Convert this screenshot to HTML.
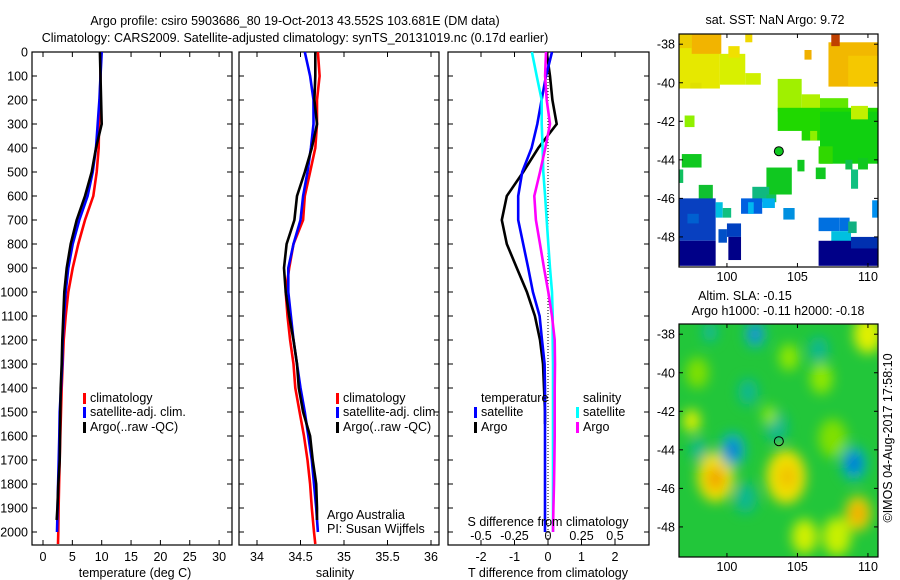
<!DOCTYPE html>
<html><head><meta charset="utf-8"><style>
body{margin:0;background:#fff;}
svg{display:block;font-family:"Liberation Sans",sans-serif;}
text{font-size:12.5px;fill:#000;}
</style></head><body>
<svg id="c" width="900" height="580" viewBox="0 0 900 580" xmlns="http://www.w3.org/2000/svg">
<defs><filter id="bl" x="-50%" y="-50%" width="200%" height="200%"><feGaussianBlur stdDeviation="6"/></filter>
<clipPath id="m2clip"><rect x="679" y="324" width="199" height="233"/></clipPath></defs>
<text x="295" y="25" text-anchor="middle">Argo profile: csiro 5903686_80 19-Oct-2013 43.552S 103.681E (DM data)</text>
<text x="295" y="42" text-anchor="middle">Climatology: CARS2009. Satellite-adjusted climatology: synTS_20131019.nc (0.17d earlier)</text>
<text x="775" y="24" text-anchor="middle">sat. SST: NaN Argo: 9.72</text>
<text x="745" y="300" text-anchor="middle">Altim. SLA: -0.15</text>
<text x="778" y="315" text-anchor="middle">Argo h1000: -0.11 h2000: -0.18</text>
<text x="0" y="0" transform="translate(892,438) rotate(-90)" text-anchor="middle">©IMOS 04-Aug-2017 17:58:10</text>
<text x="327" y="519">Argo Australia</text>
<text x="327" y="533">PI: Susan Wijffels</text>
<g id="g"></g>
</svg>
<script>
// ---- data ----
const depths=[0,100,200,300,400,500,600,700,800,900,1000,1100,1200,1300,1400,1500,1600,1700,1800,1900,2000];
const depthsClim=[0,100,200,300,400,500,600,700,800,900,1000,1100,1200,1300,1400,1500,1600,1700,1800,1900,2000,2050];
const depthsArgo=[0,100,200,300,400,500,600,700,800,900,1000,1100,1200,1300,1400,1500,1600,1700,1800,1900,1950];
const tempClim=[9.8,9.8,9.7,9.54,9.49,9.15,8.57,7.16,6.01,5.06,4.31,3.87,3.53,3.36,3.19,3.07,2.95,2.85,2.75,2.65,2.6,2.55];
const tempSat=[10.0,9.8,9.6,9.32,9.03,8.46,7.6,6.18,5.06,4.31,3.87,3.58,3.36,3.29,3.07,2.85,2.78,2.67,2.58,2.48,2.39];
const tempArgo=[9.7,9.8,9.9,10.0,9.03,8.3,7.16,5.74,4.72,4.04,3.63,3.46,3.29,3.19,3.02,2.95,2.9,2.85,2.6,2.45,2.33];
const salClim=[34.70,34.72,34.69,34.69,34.67,34.61,34.55,34.53,34.42,34.37,34.33,34.35,34.38,34.42,34.44,34.49,34.54,34.58,34.61,34.63,34.655,34.67];
const salSat=[34.55,34.61,34.65,34.65,34.62,34.58,34.53,34.50,34.42,34.36,34.36,34.39,34.42,34.46,34.50,34.55,34.59,34.63,34.655,34.68,34.70];
const salArgo=[34.67,34.67,34.66,34.69,34.63,34.55,34.46,34.43,34.34,34.31,34.33,34.37,34.42,34.46,34.48,34.53,34.61,34.64,34.68,34.69,34.69];
const dTsat=[0.12,-0.06,-0.19,-0.32,-0.49,-0.77,-0.89,-0.89,-0.74,-0.59,-0.45,-0.25,-0.18,-0.1,-0.09,-0.09,-0.09,-0.09,-0.09,-0.09,-0.09];
const dTargo=[-0.04,0.06,0.13,0.26,-0.29,-0.74,-1.23,-1.38,-1.23,-0.93,-0.63,-0.39,-0.24,-0.15,-0.12,-0.09,-0.09];
const depthsDTargo=[0,100,200,300,400,500,600,700,800,900,1000,1100,1200,1300,1400,1500,1550];
const dSsat=[-0.12,-0.084,-0.047,-0.047,-0.04,-0.035,-0.022,-0.01,0.002,0.015,0.03,0.035,0.035,0.037,0.037,0.037,0.037,0.037,0.037,0.037,0.037];
const dSargo=[-0.015,-0.022,-0.01,0.015,-0.02,-0.06,-0.102,-0.09,-0.06,-0.03,0.002,0.03,0.05,0.052,0.05,0.05,0.05,0.048,0.045,0.04,0.037];
const depthTicks=[0,100,200,300,400,500,600,700,800,900,1000,1100,1200,1300,1400,1500,1600,1700,1800,1900,2000];
const tempTicks=[0,5,10,15,20,25,30];
const salTicks=[34,34.5,35,35.5,36];
const salTickLabels=["34","34.5","35","35.5","36"];
const dTTicks=[-2,-1,0,1,2];
const dSTicks=[-0.5,-0.25,0,0.25,0.5];
const latTicks=[-38,-40,-42,-44,-46,-48];
const lonTicks=[100,105,110];
const argoLon=103.681, argoLat=-43.552;
// SST map patches: [lon0,lat0,lon1,lat1,color]
const sstPatches=[
[96.6,-37.5,99.5,-40.3,"#e6e800"],[97.5,-37.5,99.6,-38.5,"#f2b400"],[96.6,-37.5,97.5,-38.2,"#eccc00"],
[99.5,-38.5,101.3,-40.1,"#d8f000"],[101.3,-39.5,102.4,-40.1,"#d0f000"],[100.1,-38.1,100.9,-38.7,"#f0e000"],[101.3,-37.5,101.8,-37.9,"#f0d800"],
[97.4,-40,98.2,-40.3,"#e0e000"],
[107.2,-37.9,110.7,-40.2,"#f2b800"],[108.6,-38.6,110.7,-40.2,"#f5c800"],[107.4,-37.5,108,-38.1,"#c04000"],[105.5,-38.3,106,-38.8,"#f0b000"],
[103.6,-39.8,105.3,-41.5,"#a0f000"],[105.3,-40.6,106.6,-41.5,"#b0f000"],[106.6,-40.8,108.6,-41.5,"#60e800"],
[103.6,-41.3,110.7,-42.5,"#20d800"],[106.6,-41.5,110.7,-44.2,"#10d010"],[105.3,-42.3,106.6,-43,"#20d800"],[105.9,-42.5,106.4,-43,"#90f000"],
[108.8,-41.2,110,-41.9,"#c0f000"],[106.5,-43.3,107.5,-44.2,"#30d800"],
[97,-41.7,97.7,-42.3,"#90f000"],[96.8,-43.7,98.2,-44.4,"#10c820"],[96.6,-44.5,96.9,-45.2,"#10c060"],
[102.8,-44.4,104.6,-45.8,"#10c820"],[101.8,-45.4,103,-46.2,"#10b880"],[102.8,-45.8,103.5,-46.2,"#10c060"],[98,-45.3,99,-46.2,"#10c030"],
[105,-44,105.5,-44.6,"#10c820"],[106.3,-44.4,107,-45,"#10c820"],[109.3,-43.9,110,-44.5,"#10c820"],[108.8,-44.5,109.3,-45.5,"#10c080"],[108.4,-44,108.9,-44.5,"#10c050"],
[96.6,-46,99.2,-48.2,"#0840c0"],[96.6,-48.2,99.2,-49.5,"#000088"],[97.2,-46.8,98,-47.3,"#0060d0"],[99.2,-46.2,99.7,-47,"#00c0e0"],[99.7,-46.5,100.3,-47,"#10c080"],
[100,-47.3,101,-48,"#0040c0"],[100.1,-48,101,-49.2,"#000088"],[99.4,-47.6,100,-48.3,"#0050c8"],
[101,-46,102.5,-46.8,"#0060e0"],[102.5,-46,103.4,-46.5,"#00b0f0"],[101.5,-46.2,101.9,-46.8,"#00b8f0"],[104,-46.5,104.8,-47.1,"#0090e0"],
[106.5,-47,108,-47.7,"#0070e0"],[108,-47,108.7,-47.7,"#0070e0"],[107.4,-47.7,108.8,-48.3,"#00c0e0"],[106.5,-48.2,110.7,-49.5,"#000088"],[108.8,-48,110.7,-48.6,"#0030b0"],[108.6,-47.2,109.2,-47.8,"#10b080"],[110.3,-46.1,110.7,-47,"#0090f0"]];
// SLA map blobs: [lon,lat,radiusDeg,color]
const slaBlobs=[
[99.2,-45.4,1.3,"#f0e000"],[99.2,-45.5,0.6,"#f0a000"],[104.2,-45.4,1.4,"#f0e000"],[104.3,-45.4,0.6,"#f0c000"],
[109.3,-47.3,0.9,"#f0d000"],[109.3,-47.3,0.45,"#f0a000"],[107.8,-48.5,1.0,"#c8f000"],[105.5,-48.5,0.9,"#d0f000"],
[100.4,-44,0.9,"#10b0c0"],[100.4,-44,0.4,"#1060e0"],[109,-44.7,0.9,"#10b0c0"],[109,-44.7,0.45,"#0060e0"],
[102,-38,0.7,"#10b0c0"],[102,-38,0.3,"#2060e0"],[98.8,-37.9,0.5,"#10b8a0"],[106.5,-38.8,0.7,"#10b890"],
[101.5,-41,0.7,"#10b890"],[103.5,-42.8,0.8,"#10b890"],[98,-44,0.6,"#10b890"],[101.3,-46.5,0.8,"#10b890"],[97.5,-42.5,0.6,"#e0f000"],
[104.4,-39.2,0.7,"#90e800"],[106.7,-40.3,0.8,"#90e800"],[110,-38,1.0,"#e0f000"],[97.9,-40,0.8,"#80e000"],[107.5,-43.4,1.0,"#80e000"],[103,-42.2,0.5,"#90e800"]];
// ---- helpers ----
const G=document.getElementById('g');const NS="http://www.w3.org/2000/svg";
function mk(t,a){const e=document.createElementNS(NS,t);for(const k in a)e.setAttribute(k,a[k]);G.appendChild(e);return e;}
const yD=d=>52+d*0.24;
const P1={l:32,r:232},P2={l:239,r:439},P3={l:448,r:649},TOP=52,BOT=545;
const xT=t=>43+t*5.87, xS=s=>257+(s-34)*87, xdT=t=>548+t*33.5, xdS=s=>548+s*134;
function line(xs,ds,fx,col,name){const pts=xs.map((v,i)=>fx(v).toFixed(1)+','+yD(ds[i]).toFixed(1)).join(' ');
const e=mk('polyline',{points:pts,fill:'none',stroke:col,'stroke-width':2.6,'stroke-linejoin':'miter'});

}
function frame(p,name,xticks,fx,labels,ylabels){
const r=mk('rect',{x:p.l,y:TOP,width:p.r-p.l,height:BOT-TOP,fill:'none',stroke:'#000','stroke-width':1.2});


depthTicks.forEach(d=>{mk('line',{x1:p.l,x2:p.l+5,y1:yD(d),y2:yD(d),stroke:'#000'});mk('line',{x1:p.r,x2:p.r-5,y1:yD(d),y2:yD(d),stroke:'#000'});
if(ylabels){const t=mk('text',{x:p.l-4,y:yD(d)+4.5,'text-anchor':'end'});t.textContent=d;

}});
if(xticks)xticks.forEach((v,i)=>{const x=fx(v);mk('line',{x1:x,x2:x,y1:BOT,y2:BOT-5,stroke:'#000'});mk('line',{x1:x,x2:x,y1:TOP,y2:TOP+5,stroke:'#000'});
const t=mk('text',{x:x,y:561,'text-anchor':'middle'});t.textContent=labels[i];

});}
function txt(x,y,s,name,anchor){const t=mk('text',{x:x,y:y,'text-anchor':anchor||'start'});t.textContent=s;

return t;}
function leg(x,y,col,s,name){const r=mk('rect',{x:x,y:y-9,width:3,height:11,fill:col});


txt(x+7,y,s,name);}
// ---- panel 1 ----
frame(P1,'temperature-panel',tempTicks,xT,tempTicks.map(String),true);
line(tempClim,depthsClim,xT,'#ff0000','temp-climatology-line');
line(tempSat,depths,xT,'#0000ff','temp-satellite-line');
line(tempArgo,depthsArgo,xT,'#000000','temp-argo-line');
txt(135,577,'temperature (deg C)','temperature-axis-title','middle');
leg(83,402,'#ff0000','climatology','legend-climatology');
leg(83,416,'#0000ff','satellite-adj. clim.','legend-satellite');
leg(83,431,'#000000','Argo(..raw -QC)','legend-argo');
// ---- panel 2 ----
frame(P2,'salinity-panel',salTicks,xS,salTickLabels,false);
line(salClim,depthsClim,xS,'#ff0000','sal-climatology-line');
line(salSat,depths,xS,'#0000ff','sal-satellite-line');
line(salArgo,depthsArgo,xS,'#000000','sal-argo-line');
txt(335,577,'salinity','salinity-axis-title','middle');
leg(336,402,'#ff0000','climatology','legend2-climatology');
leg(336,416,'#0000ff','satellite-adj. clim.','legend2-satellite');
leg(336,431,'#000000','Argo(..raw -QC)','legend2-argo');
// ---- panel 3 ----
frame(P3,'difference-panel',dTTicks,xdT,dTTicks.map(String),false);
mk('line',{x1:548,x2:548,y1:TOP,y2:BOT,stroke:'#000','stroke-dasharray':'1,2'});
dSTicks.forEach(v=>{const t=txt(xdS(v),540,String(v).replace('0.','0.').replace('-0.','-0.'),'s-tick-label','middle');});
line(dTargo,depthsDTargo,xdT,'#000000','dT-argo-line');
line(dTsat,depths,xdT,'#0000ff','dT-satellite-line');
line(dSsat,depths,xdS,'#00ffff','dS-satellite-line');
line(dSargo,depths,xdS,'#ff00ff','dS-argo-line');
txt(548,526,'S difference from climatology','s-axis-title','middle');
txt(548,577,'T difference from climatology','t-axis-title','middle');
txt(481,402,'temperature','legend-temperature-header');
leg(474,416,'#0000ff','satellite','legend3-t-satellite');
leg(474,431,'#000000','Argo','legend3-t-argo');
txt(583,402,'salinity','legend-salinity-header');
leg(576,416,'#00ffff','satellite','legend3-s-satellite');
leg(576,431,'#ff00ff','Argo','legend3-s-argo');
// ---- maps ----
const ML=679,MR=878,lonX=l=>679+(l-96.6)*14.1;
function latY(top){return l=>top+(-37.47-l)*19.27;}
function mapAxes(top,name){const ly=latY(top);
const r=mk('rect',{x:ML,y:top,width:MR-ML,height:233,fill:'none',stroke:'#000','stroke-width':1.2});


latTicks.forEach(l=>{const y=ly(l);mk('line',{x1:ML,x2:ML+4,y1:y,y2:y,stroke:'#000'});mk('line',{x1:MR,x2:MR-4,y1:y,y2:y,stroke:'#000'});txt(675,y+4.5,String(l),'lat-tick-label','end');});
lonTicks.forEach(l=>{const x=lonX(l);mk('line',{x1:x,x2:x,y1:top+233,y2:top+229,stroke:'#000'});mk('line',{x1:x,x2:x,y1:top,y2:top+4,stroke:'#000'});txt(x,top+247,String(l),'lon-tick-label','middle');});}
// SST map
{const ly=latY(34);
sstPatches.forEach(p=>{const x0=lonX(p[0]),x1=lonX(Math.min(p[2],110.7)),y0=ly(p[1]),y1=ly(Math.max(p[3],-49.56));
const e=mk('rect',{x:x0,y:y0,width:x1-x0,height:y1-y0,fill:p[4]});

});
const d=mk('circle',{cx:lonX(argoLon),cy:ly(argoLat),r:4.5,fill:'#10c820',stroke:'#000','stroke-width':1});


mapAxes(34,'sst-map');}
// SLA map
{const ly=latY(324);
const bg=mk('rect',{x:ML,y:324,width:MR-ML,height:233,fill:'#22c63a'});


const gg=document.createElementNS(NS,'g');gg.setAttribute('clip-path','url(#m2clip)');G.appendChild(gg);
const inner=document.createElementNS(NS,'g');inner.setAttribute('filter','url(#bl)');gg.appendChild(inner);
slaBlobs.forEach(b=>{const e=document.createElementNS(NS,'ellipse');
e.setAttribute('cx',lonX(b[0]));e.setAttribute('cy',ly(b[1]));e.setAttribute('rx',b[2]*14.1);e.setAttribute('ry',b[2]*19.27);e.setAttribute('fill',b[3]);


inner.appendChild(e);});
const d=mk('circle',{cx:lonX(argoLon),cy:ly(argoLat),r:4.5,fill:'none',stroke:'#000','stroke-width':1});


mapAxes(324,'sla-map');}
</script>
</body></html>
